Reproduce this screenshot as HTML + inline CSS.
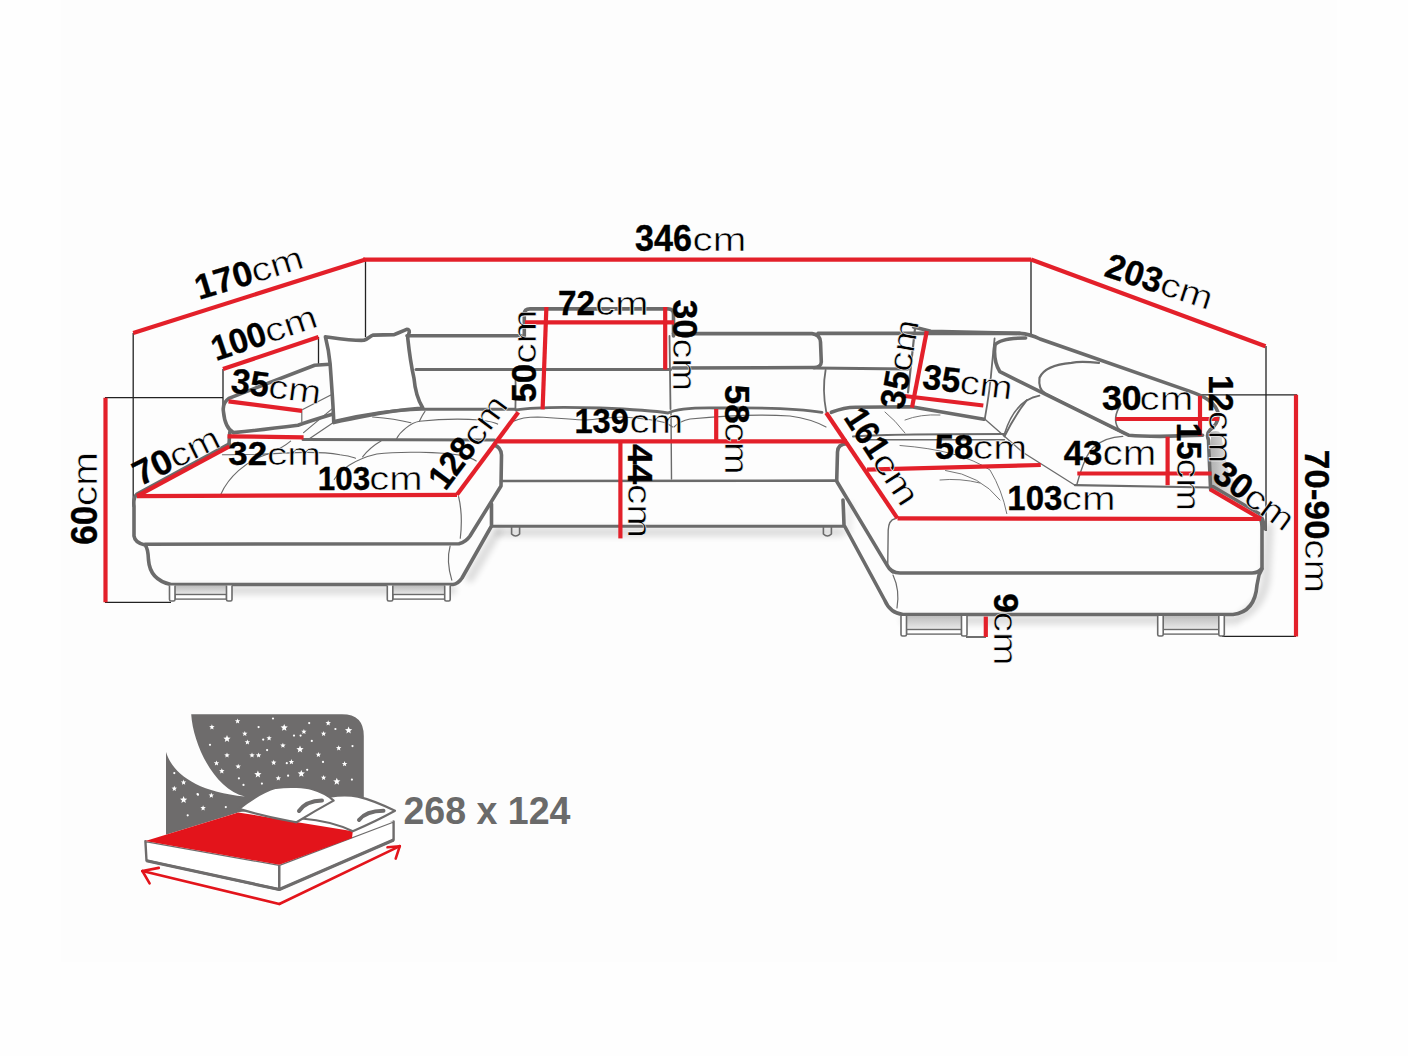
<!DOCTYPE html>
<html><head><meta charset="utf-8"><style>
html,body{margin:0;padding:0;background:#fff;}
svg{display:block;font-family:"Liberation Sans",sans-serif;}
</style></head><body>
<svg width="1408" height="1056" viewBox="0 0 1408 1056">
<rect x="0" y="0" width="1408" height="1056" fill="#fefefe"/>
<rect x="61" y="0" width="1276" height="962" fill="#fdfdfd"/>
<line x1="133.2" y1="333" x2="133.2" y2="507" stroke="#222" stroke-width="1.3" stroke-linecap="butt"/>
<line x1="365.5" y1="259.5" x2="365.5" y2="337" stroke="#222" stroke-width="1.3" stroke-linecap="butt"/>
<line x1="223" y1="369" x2="223" y2="412" stroke="#222" stroke-width="1.3" stroke-linecap="butt"/>
<line x1="318.5" y1="337" x2="318.5" y2="364" stroke="#222" stroke-width="1.3" stroke-linecap="butt"/>
<line x1="105" y1="397.7" x2="223" y2="397.7" stroke="#222" stroke-width="1.3" stroke-linecap="butt"/>
<line x1="105" y1="602.3" x2="171" y2="602.3" stroke="#222" stroke-width="1.3" stroke-linecap="butt"/>
<line x1="1031" y1="259.5" x2="1031" y2="334" stroke="#222" stroke-width="1.3" stroke-linecap="butt"/>
<line x1="1266" y1="346" x2="1266" y2="531" stroke="#222" stroke-width="1.3" stroke-linecap="butt"/>
<line x1="1201" y1="394.8" x2="1297" y2="394.8" stroke="#222" stroke-width="1.3" stroke-linecap="butt"/>
<line x1="1222" y1="636.4" x2="1296" y2="636.4" stroke="#222" stroke-width="1.3" stroke-linecap="butt"/>
<line x1="966" y1="637" x2="986" y2="637" stroke="#222" stroke-width="1.3" stroke-linecap="butt"/>
<defs><filter id="blur" filterUnits="userSpaceOnUse" x="0" y="0" width="1408" height="1056"><feGaussianBlur stdDeviation="5"/></filter><filter id="blur2" filterUnits="userSpaceOnUse" x="0" y="0" width="1408" height="1056"><feGaussianBlur stdDeviation="3"/></filter></defs>
<path d="M175 590 L452 590" fill="none" stroke="#000" stroke-width="9" opacity="0.13" filter="url(#blur2)" stroke-linecap="round"/>
<path d="M470 578 L497 532" fill="none" stroke="#000" stroke-width="9" opacity="0.13" filter="url(#blur2)" stroke-linecap="round"/>
<path d="M500 532 L840 532" fill="none" stroke="#000" stroke-width="9" opacity="0.13" filter="url(#blur2)" stroke-linecap="round"/>
<path d="M848 532 L850 505" fill="none" stroke="#000" stroke-width="6" opacity="0.08" filter="url(#blur2)" stroke-linecap="round"/>
<path d="M905 620 L1236 620" fill="none" stroke="#000" stroke-width="9" opacity="0.13" filter="url(#blur2)" stroke-linecap="round"/>
<path d="M1242 616 Q1262 605 1266 580 L1269 527" fill="none" stroke="#000" stroke-width="9" opacity="0.13" filter="url(#blur2)" stroke-linecap="round"/>
<path d="M1214 445 L1216 490" fill="none" stroke="#000" stroke-width="7" opacity="0.1" filter="url(#blur2)" stroke-linecap="round"/>
<path d="M229 444 L137 494 Q133 498 134 506 L134 536 Q135 543 145 545 Q148 548 148.5 560 Q150 580 171 584.5 L453 584.5 Q458 584 462 578 L491.5 526 L491.5 504" stroke="#6b6b6b" stroke-width="3.6" fill="none" stroke-linejoin="round" stroke-linecap="round" />
<path d="M145 544.2 L459 543.8 Q466 542 470 536 L501 486 L501.5 455 Q501 447 494 445" stroke="#6b6b6b" stroke-width="3.6" fill="none" stroke-linejoin="round" stroke-linecap="round" />
<path d="M458.6 496.7 Q463 515 460.3 538.2" stroke="#6b6b6b" stroke-width="1.2" fill="none" stroke-linejoin="round" stroke-linecap="round" />
<path d="M450.1 546.1 Q446 561 451.8 580.2" stroke="#6b6b6b" stroke-width="1.2" fill="none" stroke-linejoin="round" stroke-linecap="round" />
<path d="M303 439.5 L494 440 L498 441" stroke="#6b6b6b" stroke-width="3.0" fill="none" stroke-linejoin="round" stroke-linecap="round" />
<path d="M221 494 C228 478 245 461 268 454 C278 450 285 446 290.6 441.2" stroke="#6a6a6a" stroke-width="1.1" fill="none" stroke-linejoin="round" stroke-linecap="round" />
<path d="M222.4 454.7 C245 455 270 454 296 452.6 C315 452 330 453 340 454.7 C350 456 352 457 355.5 458.2" stroke="#6a6a6a" stroke-width="1.1" fill="none" stroke-linejoin="round" stroke-linecap="round" />
<path d="M334.2 479.5 C340 470 355 459 376.8 454 C400 451 440 452 462 455.4 C468 457 473 459 476.25 461" stroke="#6a6a6a" stroke-width="1.1" fill="none" stroke-linejoin="round" stroke-linecap="round" />
<path d="M362.6 456.8 C368 450 374 445 381 441" stroke="#6a6a6a" stroke-width="1.1" fill="none" stroke-linejoin="round" stroke-linecap="round" />
<path d="M372.6 417 C385 418 400 420 410.9 422.7" stroke="#6a6a6a" stroke-width="1.1" fill="none" stroke-linejoin="round" stroke-linecap="round" />
<path d="M396.7 438.4 C400 432 410 423 419.4 421.3 C421 418 423 414 425 411.4" stroke="#6a6a6a" stroke-width="1.1" fill="none" stroke-linejoin="round" stroke-linecap="round" />
<path d="M419.4 421.3 C440 419 462 418.5 480 420 C488 421 494 422 497.6 424.1" stroke="#6a6a6a" stroke-width="1.1" fill="none" stroke-linejoin="round" stroke-linecap="round" />
<path d="M513.5 421.3 C520 418 530 417 537.6 417 C560 418 575 420 586 420 C600 419 612 417 622.8 417 C640 418 655 420 665.5 422.7 Q670 425 672.6 427" stroke="#6a6a6a" stroke-width="1.1" fill="none" stroke-linejoin="round" stroke-linecap="round" />
<path d="M674 427 Q680 421 690 419 C720 416 760 414 790 416 C805 418 815 421 826 427" stroke="#6a6a6a" stroke-width="1.1" fill="none" stroke-linejoin="round" stroke-linecap="round" />
<path d="M329.5 364.2 L314.7 365.2 L228.8 398.4 Q222 403 223.5 412 Q225 428 233.5 432.6 Q260 430 298 425.2 Q310 421 333 414" stroke="#6b6b6b" stroke-width="3.6" fill="none" stroke-linejoin="round" stroke-linecap="round" />
<path d="M229.8 432 L228.8 447" stroke="#6b6b6b" stroke-width="3.6" fill="none" stroke-linejoin="round" stroke-linecap="round" />
<path d="M301.8 410.4 L301.8 421.5" stroke="#6b6b6b" stroke-width="1.2" fill="none" stroke-linejoin="round" stroke-linecap="round" />
<path d="M302.7 409.5 L331.3 394.7" stroke="#6b6b6b" stroke-width="1.2" fill="none" stroke-linejoin="round" stroke-linecap="round" />
<path d="M303.6 432.6 L332.3 408.6" stroke="#6b6b6b" stroke-width="1.2" fill="none" stroke-linejoin="round" stroke-linecap="round" />
<path d="M309 439 L332.3 423.3" stroke="#6b6b6b" stroke-width="1.2" fill="none" stroke-linejoin="round" stroke-linecap="round" />
<path d="M325.4 336.7 C335 338 355 341 364 340.3 C368 339 370 336 373.3 335.1 L394.2 334.6 C398 333 403 331 406.7 329.4 Q409.5 329.5 409.3 332 L407.7 337.7 C409 350 411 365 414 378.3 C415 390 418 400 422.8 408 C405 409.5 380 413 367 415.8 C355 418 345 420 333.75 422.6 C333.5 410 332 390 330.1 363.75 C329 352 327 343 325.4 336.7 Z" stroke="#6b6b6b" stroke-width="3.6" fill="#fff" stroke-linejoin="round" stroke-linecap="round" />
<path d="M407 335.7 L521.4 335.7" stroke="#6b6b6b" stroke-width="3.6" fill="none" stroke-linejoin="round" stroke-linecap="round" />
<path d="M416 369.5 L670.5 369.5" stroke="#6b6b6b" stroke-width="3.0" fill="none" stroke-linejoin="round" stroke-linecap="round" />
<path d="M524.3 338 L524.3 314 Q524.3 308.9 530 308.9 L668 308.9 Q673.5 308.9 673.5 314 L673.5 336" stroke="#6b6b6b" stroke-width="3.6" fill="none" stroke-linejoin="round" stroke-linecap="round" />
<path d="M515.4 372 Q516 390 515.4 409.3" stroke="#6b6b6b" stroke-width="1.8" fill="none" stroke-linejoin="round" stroke-linecap="round" />
<path d="M669.5 336 L670.5 409" stroke="#6b6b6b" stroke-width="1.8" fill="none" stroke-linejoin="round" stroke-linecap="round" />
<path d="M334.4 421.3 Q380 410 421.4 409.2 L515 409.3" stroke="#6b6b6b" stroke-width="3.0" fill="none" stroke-linejoin="round" stroke-linecap="round" />
<path d="M516 410 Q540 406 600 408 Q650 410 668 413 Q680 407 720 408 Q790 407 822 412.3" stroke="#6b6b6b" stroke-width="2.8" fill="none" stroke-linejoin="round" stroke-linecap="round" />
<path d="M671 413 L671.5 479" stroke="#6b6b6b" stroke-width="1.4" fill="none" stroke-linejoin="round" stroke-linecap="round" />
<path d="M673.5 333.6 L812 333.6 Q820 334.5 820.5 342 L821.3 362 Q821 367.5 814 367.5 L673 368" stroke="#6b6b6b" stroke-width="3.6" fill="none" stroke-linejoin="round" stroke-linecap="round" />
<path d="M818 333.4 L1019.7 333.4" stroke="#6b6b6b" stroke-width="3.6" fill="none" stroke-linejoin="round" stroke-linecap="round" />
<path d="M814 368 L908 369" stroke="#6b6b6b" stroke-width="3.0" fill="none" stroke-linejoin="round" stroke-linecap="round" />
<path d="M825.6 370 Q822 390 826.3 412.3" stroke="#6b6b6b" stroke-width="1.8" fill="none" stroke-linejoin="round" stroke-linecap="round" />
<path d="M501 481 L837 480.6" stroke="#6b6b6b" stroke-width="2.6" fill="none" stroke-linejoin="round" stroke-linecap="round" />
<path d="M491.5 526.3 L843 526.3" stroke="#6b6b6b" stroke-width="3.0" fill="none" stroke-linejoin="round" stroke-linecap="round" />
<path d="M511.6 527 L511.6 534 Q515.6 538 519.6 534 L519.6 527" stroke="#6b6b6b" stroke-width="1.6" fill="none" stroke-linejoin="round" stroke-linecap="round" />
<path d="M823.4 527 L823.4 534 Q827.4 538 831.4 534 L831.4 527" stroke="#6b6b6b" stroke-width="1.6" fill="none" stroke-linejoin="round" stroke-linecap="round" />
<defs><linearGradient id="armg" x1="0" y1="0" x2="1" y2="0"><stop offset="0" stop-color="#9a9a9a"/><stop offset="1" stop-color="#ffffff" stop-opacity="0"/></linearGradient></defs>
<path d="M1211 432 Q1222 428 1222 440 L1228 470 Q1240 495 1266 520 L1211 489 Z" fill="url(#armg)" opacity="0.7"/>
<path d="M1213 486.5 L1259 513.5 Q1264 518 1264.5 529" stroke="#6b6b6b" stroke-width="3.2" fill="none" stroke-linejoin="round" stroke-linecap="round" />
<path d="M847 443.7 Q837.7 443.8 837.5 452 L836.7 481.3 L886.7 564.6 Q891 573 900 573 L1252 573 Q1259 573 1262 568 L1262 527 Q1262 520 1259 518" stroke="#6b6b6b" stroke-width="3.6" fill="none" stroke-linejoin="round" stroke-linecap="round" />
<path d="M843 500 Q843.5 510 844 525 L884.6 600 Q890 613 903 614.5 L1233 614.5 Q1255 612 1257 585 L1259 575 L1262 569" stroke="#6b6b6b" stroke-width="3.6" fill="none" stroke-linejoin="round" stroke-linecap="round" />
<path d="M895 518.75 Q888.75 520 888.2 530 L887.7 566 Q890 572 893 573" stroke="#6b6b6b" stroke-width="1.4" fill="none" stroke-linejoin="round" stroke-linecap="round" />
<path d="M893 575 Q900 590 897 608" stroke="#6b6b6b" stroke-width="1.2" fill="none" stroke-linejoin="round" stroke-linecap="round" />
<path d="M853 436.5 Q880 434 1004.5 434" stroke="#6b6b6b" stroke-width="2.0" fill="none" stroke-linejoin="round" stroke-linecap="round" />
<path d="M866 439.8 L1004.5 439.8" stroke="#6b6b6b" stroke-width="1.4" fill="none" stroke-linejoin="round" stroke-linecap="round" />
<path d="M831.3 412.3 Q845 407 856.8 407.3 L911.4 406.8 L984 419.3" stroke="#6b6b6b" stroke-width="3.6" fill="none" stroke-linejoin="round" stroke-linecap="round" />
<path d="M985 419.3 L1022.7 452.3 L1075 485.2" stroke="#6b6b6b" stroke-width="1.3" fill="none" stroke-linejoin="round" stroke-linecap="round" />
<path d="M1075 485.2 L1210 487.5" stroke="#6b6b6b" stroke-width="2.2" fill="none" stroke-linejoin="round" stroke-linecap="round" />
<path d="M1004.5 436.4 Q1015 415 1027 400" stroke="#6b6b6b" stroke-width="2.0" fill="none" stroke-linejoin="round" stroke-linecap="round" />
<path d="M900 445.5 Q960 450 990 470 Q1002 490 1006.8 513.6" stroke="#777" stroke-width="1.0" fill="none" stroke-linejoin="round" stroke-linecap="round" />
<path d="M945.5 470.5 Q980 475 1000 500" stroke="#777" stroke-width="1.0" fill="none" stroke-linejoin="round" stroke-linecap="round" />
<path d="M885 412 Q895 420 905 433" stroke="#777" stroke-width="1.0" fill="none" stroke-linejoin="round" stroke-linecap="round" />
<path d="M905 420 Q920 414 940 415" stroke="#777" stroke-width="1.0" fill="none" stroke-linejoin="round" stroke-linecap="round" />
<path d="M940 480 Q960 478 980 483" stroke="#777" stroke-width="1.0" fill="none" stroke-linejoin="round" stroke-linecap="round" />
<path d="M913.6 327 L930.7 331.3 L1019.7 333.4 Q1030 334 1040 339 L1190 391.4 Q1203 396 1208.5 400 Q1218 407 1218.4 415.5 Q1218 424 1210 430 Q1206 434 1208.5 440 L1210.6 489.4" stroke="#6b6b6b" stroke-width="3.6" fill="none" stroke-linejoin="round" stroke-linecap="round" />
<path d="M908 392.4 L915 328.5 L913.6 327" stroke="#6b6b6b" stroke-width="2.2" fill="none" stroke-linejoin="round" stroke-linecap="round" />
<path d="M984.7 419.4 Q990 390 991.8 366.8 L994.6 338.4" stroke="#6b6b6b" stroke-width="1.8" fill="none" stroke-linejoin="round" stroke-linecap="round" />
<path d="M1025.6 338 Q1000 338 995 345 Q993 360 999.8 371.7 L1129 435.3 Q1140 436.4 1160 436.4 L1202.6 435.3" stroke="#6b6b6b" stroke-width="3.6" fill="none" stroke-linejoin="round" stroke-linecap="round" />
<path d="M1099 362.8 Q1080 361 1071.4 362.8 Q1045 365 1039.5 377.7 Q1038 390 1045.5 393.6 L1125 434" stroke="#6b6b6b" stroke-width="2.2" fill="none" stroke-linejoin="round" stroke-linecap="round" />
<path d="M1121 404 Q1112 418 1118 428 Q1123 434 1133 436" stroke="#6b6b6b" stroke-width="1.6" fill="none" stroke-linejoin="round" stroke-linecap="round" />
<path d="M1077 484 Q1085 455 1093 447.7 Q1105 437 1122.7 436.4" stroke="#6b6b6b" stroke-width="1.4" fill="none" stroke-linejoin="round" stroke-linecap="round" />
<path d="M1004.7 433.3 Q1015 400 1039.5 395.6" stroke="#6b6b6b" stroke-width="1.6" fill="none" stroke-linejoin="round" stroke-linecap="round" />
<defs><linearGradient id="legg" x1="0" y1="0" x2="0" y2="1"><stop offset="0" stop-color="#bdbdbd"/><stop offset="1" stop-color="#efefef"/></linearGradient></defs>
<rect x="175.0" y="585.5" width="51.5" height="10.5" fill="url(#legg)"/>
<rect x="175.0" y="594.5" width="51.5" height="4.6" fill="#fff" stroke="#6b6b6b" stroke-width="1.4"/>
<path d="M169.5 585.5 L169.5 599.5 Q169.5 601 171.0 601 L173.5 601 Q175.0 601 175.0 599.5 L175.0 585.5" fill="#fff" stroke="#6b6b6b" stroke-width="1.6"/>
<path d="M226.5 585.5 L226.5 599.5 Q226.5 601 228.0 601 L230.5 601 Q232.0 601 232.0 599.5 L232.0 585.5" fill="#fff" stroke="#6b6b6b" stroke-width="1.6"/>
<rect x="392.8" y="585.5" width="51.89999999999998" height="10.5" fill="url(#legg)"/>
<rect x="392.8" y="594.5" width="51.89999999999998" height="4.6" fill="#fff" stroke="#6b6b6b" stroke-width="1.4"/>
<path d="M387.3 585.5 L387.3 599.5 Q387.3 601 388.8 601 L391.3 601 Q392.8 601 392.8 599.5 L392.8 585.5" fill="#fff" stroke="#6b6b6b" stroke-width="1.6"/>
<path d="M444.7 585.5 L444.7 599.5 Q444.7 601 446.2 601 L448.7 601 Q450.2 601 450.2 599.5 L450.2 585.5" fill="#fff" stroke="#6b6b6b" stroke-width="1.6"/>
<rect x="906.5" y="616" width="55.0" height="15" fill="url(#legg)"/>
<rect x="906.5" y="629.5" width="55.0" height="4.6" fill="#fff" stroke="#6b6b6b" stroke-width="1.4"/>
<path d="M901 616 L901 634.5 Q901 636 902.5 636 L905.0 636 Q906.5 636 906.5 634.5 L906.5 616" fill="#fff" stroke="#6b6b6b" stroke-width="1.6"/>
<path d="M961.5 616 L961.5 634.5 Q961.5 636 963.0 636 L965.5 636 Q967.0 636 967.0 634.5 L967.0 616" fill="#fff" stroke="#6b6b6b" stroke-width="1.6"/>
<rect x="1163.2" y="616" width="55.59999999999991" height="15" fill="url(#legg)"/>
<rect x="1163.2" y="629.5" width="55.59999999999991" height="4.6" fill="#fff" stroke="#6b6b6b" stroke-width="1.4"/>
<path d="M1157.7 616 L1157.7 634.5 Q1157.7 636 1159.2 636 L1161.7 636 Q1163.2 636 1163.2 634.5 L1163.2 616" fill="#fff" stroke="#6b6b6b" stroke-width="1.6"/>
<path d="M1218.8 616 L1218.8 634.5 Q1218.8 636 1220.3 636 L1222.8 636 Q1224.3 636 1224.3 634.5 L1224.3 616" fill="#fff" stroke="#6b6b6b" stroke-width="1.6"/>
<line x1="133.2" y1="333" x2="365.5" y2="259.5" stroke="#e3202a" stroke-width="4.2" stroke-linecap="butt"/>
<line x1="363" y1="259.6" x2="1031" y2="259.6" stroke="#e3202a" stroke-width="4.2" stroke-linecap="butt"/>
<line x1="1031" y1="259.5" x2="1265.5" y2="346.3" stroke="#e3202a" stroke-width="4.2" stroke-linecap="butt"/>
<line x1="223" y1="369" x2="318.5" y2="337" stroke="#e3202a" stroke-width="4.2" stroke-linecap="butt"/>
<line x1="228.5" y1="401.3" x2="302" y2="410.8" stroke="#e3202a" stroke-width="4.2" stroke-linecap="butt"/>
<line x1="227.5" y1="436.3" x2="303.6" y2="437.4" stroke="#e3202a" stroke-width="4.2" stroke-linecap="butt"/>
<line x1="137" y1="496.2" x2="229.3" y2="446.5" stroke="#e3202a" stroke-width="4.2" stroke-linecap="butt"/>
<line x1="137" y1="496.2" x2="457" y2="494.8" stroke="#e3202a" stroke-width="4.2" stroke-linecap="butt"/>
<line x1="456.9" y1="494.8" x2="518.3" y2="412.2" stroke="#e3202a" stroke-width="4.2" stroke-linecap="butt"/>
<line x1="105.5" y1="397.7" x2="105.5" y2="602.3" stroke="#e3202a" stroke-width="4.2" stroke-linecap="butt"/>
<line x1="525" y1="322.4" x2="674" y2="322.4" stroke="#e3202a" stroke-width="4.2" stroke-linecap="butt"/>
<line x1="546.4" y1="307" x2="542.6" y2="409.4" stroke="#e3202a" stroke-width="4.2" stroke-linecap="butt"/>
<line x1="665.2" y1="307" x2="665.2" y2="369.5" stroke="#e3202a" stroke-width="4.2" stroke-linecap="butt"/>
<line x1="498" y1="441.4" x2="847" y2="441.4" stroke="#e3202a" stroke-width="4.2" stroke-linecap="butt"/>
<line x1="620.4" y1="441.4" x2="620.4" y2="538.4" stroke="#e3202a" stroke-width="4.2" stroke-linecap="butt"/>
<line x1="716.2" y1="409" x2="716.2" y2="441.4" stroke="#e3202a" stroke-width="4.2" stroke-linecap="butt"/>
<line x1="826.2" y1="412.8" x2="897.5" y2="518.4" stroke="#e3202a" stroke-width="4.2" stroke-linecap="butt"/>
<line x1="926.8" y1="331" x2="912" y2="407.6" stroke="#e3202a" stroke-width="4.2" stroke-linecap="butt"/>
<line x1="904.4" y1="396" x2="983.3" y2="405.5" stroke="#e3202a" stroke-width="4.2" stroke-linecap="butt"/>
<line x1="867" y1="469.6" x2="1040.8" y2="465" stroke="#e3202a" stroke-width="4.2" stroke-linecap="butt"/>
<line x1="897.5" y1="518.4" x2="1261" y2="519" stroke="#e3202a" stroke-width="4.2" stroke-linecap="butt"/>
<line x1="1115.6" y1="419" x2="1219" y2="419" stroke="#e3202a" stroke-width="4.2" stroke-linecap="butt"/>
<line x1="1200" y1="395.8" x2="1200" y2="436" stroke="#e3202a" stroke-width="4.2" stroke-linecap="butt"/>
<line x1="1167.6" y1="436.7" x2="1167.6" y2="485.2" stroke="#e3202a" stroke-width="4.2" stroke-linecap="butt"/>
<line x1="1077.3" y1="473.5" x2="1211.5" y2="473.5" stroke="#e3202a" stroke-width="4.2" stroke-linecap="butt"/>
<line x1="1210" y1="489.3" x2="1261" y2="519" stroke="#e3202a" stroke-width="4.2" stroke-linecap="butt"/>
<line x1="1296" y1="394.8" x2="1296" y2="636.6" stroke="#e3202a" stroke-width="4.2" stroke-linecap="butt"/>
<line x1="985.8" y1="616.6" x2="985.8" y2="637" stroke="#e3202a" stroke-width="4.2" stroke-linecap="butt"/>
<g transform="translate(636,251) rotate(0)"><text x="-1.09" y="0" font-size="36.43" font-weight="bold" textLength="57.01" lengthAdjust="spacingAndGlyphs" fill="#000" stroke="#000" stroke-width="0.35">346</text><text x="56.54" y="0" font-size="33.89" textLength="53.73" lengthAdjust="spacingAndGlyphs" fill="#000" stroke="#fff" stroke-width="0.55">cm</text></g>
<g transform="translate(559,314.6) rotate(0)"><text x="-1.04" y="0" font-size="34.71" font-weight="bold" textLength="37.08" lengthAdjust="spacingAndGlyphs" fill="#000" stroke="#000" stroke-width="0.35">72</text><text x="36.34" y="0" font-size="34.07" textLength="53.15" lengthAdjust="spacingAndGlyphs" fill="#000" stroke="#fff" stroke-width="0.55">cm</text></g>
<g transform="translate(575.5,432.6) rotate(0)"><text x="-1.05" y="0" font-size="35.00" font-weight="bold" textLength="54.40" lengthAdjust="spacingAndGlyphs" fill="#000" stroke="#000" stroke-width="0.35">139</text><text x="54.14" y="0" font-size="33.89" textLength="53.63" lengthAdjust="spacingAndGlyphs" fill="#000" stroke="#fff" stroke-width="0.55">cm</text></g>
<g transform="translate(318.8,490.3) rotate(0)"><text x="-1.00" y="0" font-size="33.43" font-weight="bold" textLength="52.37" lengthAdjust="spacingAndGlyphs" fill="#000" stroke="#000" stroke-width="0.35">103</text><text x="50.49" y="0" font-size="32.78" textLength="53.40" lengthAdjust="spacingAndGlyphs" fill="#000" stroke="#fff" stroke-width="0.55">cm</text></g>
<g transform="translate(229.3,465.4) rotate(0)"><text x="-1.01" y="0" font-size="33.57" font-weight="bold" textLength="38.89" lengthAdjust="spacingAndGlyphs" fill="#000" stroke="#000" stroke-width="0.35">32</text><text x="37.73" y="0" font-size="31.67" textLength="54.08" lengthAdjust="spacingAndGlyphs" fill="#000" stroke="#fff" stroke-width="0.55">cm</text></g>
<g transform="translate(935.7,458.8) rotate(0)"><text x="-1.05" y="0" font-size="35.00" font-weight="bold" textLength="38.80" lengthAdjust="spacingAndGlyphs" fill="#000" stroke="#000" stroke-width="0.35">58</text><text x="37.10" y="0" font-size="32.41" textLength="54.26" lengthAdjust="spacingAndGlyphs" fill="#000" stroke="#fff" stroke-width="0.55">cm</text></g>
<g transform="translate(1008.4,510) rotate(0)"><text x="-1.05" y="0" font-size="35.00" font-weight="bold" textLength="55.10" lengthAdjust="spacingAndGlyphs" fill="#000" stroke="#000" stroke-width="0.35">103</text><text x="53.37" y="0" font-size="33.33" textLength="53.67" lengthAdjust="spacingAndGlyphs" fill="#000" stroke="#fff" stroke-width="0.55">cm</text></g>
<g transform="translate(1064.8,465) rotate(0)"><text x="-1.05" y="0" font-size="35.00" font-weight="bold" textLength="38.70" lengthAdjust="spacingAndGlyphs" fill="#000" stroke="#000" stroke-width="0.35">43</text><text x="37.81" y="0" font-size="34.81" textLength="53.73" lengthAdjust="spacingAndGlyphs" fill="#000" stroke="#fff" stroke-width="0.55">cm</text></g>
<g transform="translate(1102.9,410.2) rotate(0)"><text x="-1.03" y="0" font-size="34.29" font-weight="bold" textLength="39.74" lengthAdjust="spacingAndGlyphs" fill="#000" stroke="#000" stroke-width="0.35">30</text><text x="36.67" y="0" font-size="33.33" textLength="53.77" lengthAdjust="spacingAndGlyphs" fill="#000" stroke="#fff" stroke-width="0.55">cm</text></g>
<g transform="translate(200,299.7) rotate(-17)"><text x="-1.05" y="0" font-size="35.00" font-weight="bold" textLength="58.80" lengthAdjust="spacingAndGlyphs" fill="#000" stroke="#000" stroke-width="0.35">170</text><text x="57.17" y="0" font-size="33.33" textLength="53.27" lengthAdjust="spacingAndGlyphs" fill="#000" stroke="#fff" stroke-width="0.55">cm</text></g>
<g transform="translate(216.9,361) rotate(-18.7)"><text x="-1.05" y="0" font-size="35.00" font-weight="bold" textLength="55.80" lengthAdjust="spacingAndGlyphs" fill="#000" stroke="#000" stroke-width="0.35">100</text><text x="54.67" y="0" font-size="33.33" textLength="53.77" lengthAdjust="spacingAndGlyphs" fill="#000" stroke="#fff" stroke-width="0.55">cm</text></g>
<g transform="translate(231,392.5) rotate(7.5)"><text x="-1.05" y="0" font-size="35.00" font-weight="bold" textLength="37.80" lengthAdjust="spacingAndGlyphs" fill="#000" stroke="#000" stroke-width="0.35">35</text><text x="36.67" y="0" font-size="33.33" textLength="52.77" lengthAdjust="spacingAndGlyphs" fill="#000" stroke="#fff" stroke-width="0.55">cm</text></g>
<g transform="translate(140.9,486) rotate(-26.2)"><text x="-1.05" y="0" font-size="35.00" font-weight="bold" textLength="39.80" lengthAdjust="spacingAndGlyphs" fill="#000" stroke="#000" stroke-width="0.35">70</text><text x="38.67" y="0" font-size="33.33" textLength="52.27" lengthAdjust="spacingAndGlyphs" fill="#000" stroke="#fff" stroke-width="0.55">cm</text></g>
<g transform="translate(97,543.6) rotate(-90)"><text x="-1.11" y="0" font-size="37.14" font-weight="bold" textLength="38.97" lengthAdjust="spacingAndGlyphs" fill="#000" stroke="#000" stroke-width="0.35">60</text><text x="37.63" y="0" font-size="34.26" textLength="53.87" lengthAdjust="spacingAndGlyphs" fill="#000" stroke="#fff" stroke-width="0.55">cm</text></g>
<g transform="translate(446,491) rotate(-53.4)"><text x="-1.05" y="0" font-size="35.00" font-weight="bold" textLength="53.80" lengthAdjust="spacingAndGlyphs" fill="#000" stroke="#000" stroke-width="0.35">128</text><text x="52.67" y="0" font-size="33.33" textLength="53.77" lengthAdjust="spacingAndGlyphs" fill="#000" stroke="#fff" stroke-width="0.55">cm</text></g>
<g transform="translate(536.4,401.5) rotate(-90)"><text x="-1.05" y="0" font-size="35.00" font-weight="bold" textLength="38.80" lengthAdjust="spacingAndGlyphs" fill="#000" stroke="#000" stroke-width="0.35">50</text><text x="37.67" y="0" font-size="33.33" textLength="54.27" lengthAdjust="spacingAndGlyphs" fill="#000" stroke="#fff" stroke-width="0.55">cm</text></g>
<g transform="translate(673,300.8) rotate(90)"><text x="-1.05" y="0" font-size="35.00" font-weight="bold" textLength="38.80" lengthAdjust="spacingAndGlyphs" fill="#000" stroke="#000" stroke-width="0.35">30</text><text x="37.67" y="0" font-size="33.33" textLength="52.77" lengthAdjust="spacingAndGlyphs" fill="#000" stroke="#fff" stroke-width="0.55">cm</text></g>
<g transform="translate(724.8,385.8) rotate(90)"><text x="-1.05" y="0" font-size="35.00" font-weight="bold" textLength="38.80" lengthAdjust="spacingAndGlyphs" fill="#000" stroke="#000" stroke-width="0.35">58</text><text x="36.67" y="0" font-size="33.33" textLength="52.27" lengthAdjust="spacingAndGlyphs" fill="#000" stroke="#fff" stroke-width="0.55">cm</text></g>
<g transform="translate(627.6,445.3) rotate(90)"><text x="-1.05" y="0" font-size="35.00" font-weight="bold" textLength="39.80" lengthAdjust="spacingAndGlyphs" fill="#000" stroke="#000" stroke-width="0.35">44</text><text x="38.67" y="0" font-size="33.33" textLength="54.17" lengthAdjust="spacingAndGlyphs" fill="#000" stroke="#fff" stroke-width="0.55">cm</text></g>
<g transform="translate(843.5,418.5) rotate(57)"><text x="-1.05" y="0" font-size="35.00" font-weight="bold" textLength="51.80" lengthAdjust="spacingAndGlyphs" fill="#000" stroke="#000" stroke-width="0.35">161</text><text x="50.67" y="0" font-size="33.33" textLength="56.77" lengthAdjust="spacingAndGlyphs" fill="#000" stroke="#fff" stroke-width="0.55">cm</text></g>
<g transform="translate(903.8,409.1) rotate(-80)"><text x="-1.05" y="0" font-size="35.00" font-weight="bold" textLength="37.80" lengthAdjust="spacingAndGlyphs" fill="#000" stroke="#000" stroke-width="0.35">35</text><text x="36.67" y="0" font-size="33.33" textLength="52.27" lengthAdjust="spacingAndGlyphs" fill="#000" stroke="#fff" stroke-width="0.55">cm</text></g>
<g transform="translate(922.5,388.4) rotate(7.1)"><text x="-1.05" y="0" font-size="35.00" font-weight="bold" textLength="37.80" lengthAdjust="spacingAndGlyphs" fill="#000" stroke="#000" stroke-width="0.35">35</text><text x="36.67" y="0" font-size="33.33" textLength="52.77" lengthAdjust="spacingAndGlyphs" fill="#000" stroke="#fff" stroke-width="0.55">cm</text></g>
<g transform="translate(1208.5,376) rotate(90)"><text x="-1.05" y="0" font-size="35.00" font-weight="bold" textLength="36.80" lengthAdjust="spacingAndGlyphs" fill="#000" stroke="#000" stroke-width="0.35">12</text><text x="34.67" y="0" font-size="33.33" textLength="52.77" lengthAdjust="spacingAndGlyphs" fill="#000" stroke="#fff" stroke-width="0.55">cm</text></g>
<g transform="translate(1177.4,423.8) rotate(90)"><text x="-1.05" y="0" font-size="35.00" font-weight="bold" textLength="36.80" lengthAdjust="spacingAndGlyphs" fill="#000" stroke="#000" stroke-width="0.35">15</text><text x="34.67" y="0" font-size="33.33" textLength="52.77" lengthAdjust="spacingAndGlyphs" fill="#000" stroke="#fff" stroke-width="0.55">cm</text></g>
<g transform="translate(1211.5,479) rotate(36.3)"><text x="-1.05" y="0" font-size="35.00" font-weight="bold" textLength="38.80" lengthAdjust="spacingAndGlyphs" fill="#000" stroke="#000" stroke-width="0.35">30</text><text x="37.67" y="0" font-size="33.33" textLength="52.77" lengthAdjust="spacingAndGlyphs" fill="#000" stroke="#fff" stroke-width="0.55">cm</text></g>
<g transform="translate(1104.1,276) rotate(18)"><text x="-1.05" y="0" font-size="35.00" font-weight="bold" textLength="57.80" lengthAdjust="spacingAndGlyphs" fill="#000" stroke="#000" stroke-width="0.35">203</text><text x="56.67" y="0" font-size="33.33" textLength="53.27" lengthAdjust="spacingAndGlyphs" fill="#000" stroke="#fff" stroke-width="0.55">cm</text></g>
<g transform="translate(1304.7,450.7) rotate(90)"><text x="-1.05" y="0" font-size="35.00" font-weight="bold" textLength="89.80" lengthAdjust="spacingAndGlyphs" fill="#000" stroke="#000" stroke-width="0.35">70-90</text><text x="88.67" y="0" font-size="33.33" textLength="53.77" lengthAdjust="spacingAndGlyphs" fill="#000" stroke="#fff" stroke-width="0.55">cm</text></g>
<g transform="translate(993.7,594.2) rotate(90)"><text x="-1.05" y="0" font-size="35.00" font-weight="bold" textLength="19.80" lengthAdjust="spacingAndGlyphs" fill="#000" stroke="#000" stroke-width="0.35">9</text><text x="17.67" y="0" font-size="33.33" textLength="53.77" lengthAdjust="spacingAndGlyphs" fill="#000" stroke="#fff" stroke-width="0.55">cm</text></g>
<path d="M191.2 714.3 L342 714.3 Q363.8 714.3 363.8 736 L363.8 798 L240 812 L166 836 L166 752.1 C172 772 195 792 244.9 796.5 C215 790 193 745 191.2 714.3 Z" fill="#6e6c6c"/>
<polygon points="237.6,718.4 238.3,720.2 240.3,720.3 238.8,721.6 239.2,723.5 237.6,722.5 236.0,723.5 236.4,721.6 234.9,720.3 236.9,720.2" fill="#fff"/>
<polygon points="211.9,724.3 212.6,726.1 214.6,726.2 213.1,727.5 213.5,729.4 211.9,728.4 210.3,729.4 210.7,727.5 209.2,726.2 211.2,726.1" fill="#fff"/>
<circle cx="273" cy="718.5" r="1.1" fill="#fff"/>
<circle cx="258.6" cy="727.1" r="1.1" fill="#fff"/>
<polygon points="284.2,723.9 285.2,726.3 287.8,726.5 285.8,728.2 286.4,730.8 284.2,729.4 282.0,730.8 282.6,728.2 280.6,726.5 283.2,726.3" fill="#fff"/>
<circle cx="309.2" cy="723.1" r="1.1" fill="#fff"/>
<polygon points="328.2,720.3 328.9,722.1 330.9,722.2 329.4,723.5 329.8,725.4 328.2,724.4 326.6,725.4 327.0,723.5 325.5,722.2 327.5,722.1" fill="#fff"/>
<polygon points="348.6,726.6 349.6,729.0 352.2,729.2 350.2,730.9 350.8,733.5 348.6,732.1 346.4,733.5 347.0,730.9 345.0,729.2 347.6,729.0" fill="#fff"/>
<circle cx="335.4" cy="729" r="1.1" fill="#fff"/>
<polygon points="244.8,730.9 245.5,732.7 247.5,732.8 246.0,734.1 246.4,736.0 244.8,735.0 243.2,736.0 243.6,734.1 242.1,732.8 244.1,732.7" fill="#fff"/>
<polygon points="227.0,735.1 228.0,737.5 230.6,737.7 228.6,739.4 229.2,742.0 227.0,740.6 224.8,742.0 225.4,739.4 223.4,737.7 226.0,737.5" fill="#fff"/>
<circle cx="210" cy="744.8" r="1.1" fill="#fff"/>
<polygon points="247.4,739.4 248.1,741.2 250.1,741.3 248.6,742.6 249.0,744.5 247.4,743.5 245.8,744.5 246.2,742.6 244.7,741.3 246.7,741.2" fill="#fff"/>
<circle cx="263.2" cy="739.6" r="1.1" fill="#fff"/>
<polygon points="269.1,735.4 269.8,737.2 271.8,737.3 270.3,738.6 270.7,740.5 269.1,739.5 267.5,740.5 267.9,738.6 266.4,737.3 268.4,737.2" fill="#fff"/>
<polygon points="303.9,728.9 304.6,730.7 306.6,730.8 305.1,732.1 305.5,734.0 303.9,733.0 302.3,734.0 302.7,732.1 301.2,730.8 303.2,730.7" fill="#fff"/>
<circle cx="294" cy="735.6" r="1.1" fill="#fff"/>
<circle cx="300.6" cy="735.6" r="1.1" fill="#fff"/>
<polygon points="323.6,730.9 324.3,732.7 326.3,732.8 324.8,734.1 325.2,736.0 323.6,735.0 322.0,736.0 322.4,734.1 320.9,732.8 322.9,732.7" fill="#fff"/>
<circle cx="311.8" cy="740.9" r="1.1" fill="#fff"/>
<polygon points="282.9,742.7 283.6,744.5 285.6,744.6 284.1,745.9 284.5,747.8 282.9,746.8 281.3,747.8 281.7,745.9 280.2,744.6 282.2,744.5" fill="#fff"/>
<polygon points="300.0,745.6 301.0,748.0 303.6,748.2 301.6,749.9 302.2,752.5 300.0,751.1 297.8,752.5 298.4,749.9 296.4,748.2 299.0,748.0" fill="#fff"/>
<polygon points="338.7,745.3 339.4,747.1 341.4,747.2 339.9,748.5 340.3,750.4 338.7,749.4 337.1,750.4 337.5,748.5 336.0,747.2 338.0,747.1" fill="#fff"/>
<circle cx="352.5" cy="746.1" r="1.1" fill="#fff"/>
<circle cx="267.1" cy="750.1" r="1.1" fill="#fff"/>
<polygon points="227.0,752.5 227.7,754.3 229.7,754.4 228.2,755.7 228.6,757.6 227.0,756.6 225.4,757.6 225.8,755.7 224.3,754.4 226.3,754.3" fill="#fff"/>
<polygon points="252.0,752.5 252.7,754.3 254.7,754.4 253.2,755.7 253.6,757.6 252.0,756.6 250.4,757.6 250.8,755.7 249.3,754.4 251.3,754.3" fill="#fff"/>
<polygon points="258.6,752.5 259.3,754.3 261.3,754.4 259.8,755.7 260.2,757.6 258.6,756.6 257.0,757.6 257.4,755.7 255.9,754.4 257.9,754.3" fill="#fff"/>
<polygon points="318.4,751.9 319.1,753.7 321.1,753.8 319.6,755.1 320.0,757.0 318.4,756.0 316.8,757.0 317.2,755.1 315.7,753.8 317.7,753.7" fill="#fff"/>
<polygon points="216.5,760.4 217.2,762.2 219.2,762.3 217.7,763.6 218.1,765.5 216.5,764.5 214.9,765.5 215.3,763.6 213.8,762.3 215.8,762.2" fill="#fff"/>
<polygon points="238.2,763.7 238.9,765.5 240.9,765.6 239.4,766.9 239.8,768.8 238.2,767.8 236.6,768.8 237.0,766.9 235.5,765.6 237.5,765.5" fill="#fff"/>
<polygon points="273.7,759.8 274.4,761.6 276.4,761.7 274.9,763.0 275.3,764.9 273.7,763.9 272.1,764.9 272.5,763.0 271.0,761.7 273.0,761.6" fill="#fff"/>
<polygon points="291.4,759.1 292.1,760.9 294.1,761.0 292.6,762.3 293.0,764.2 291.4,763.2 289.8,764.2 290.2,762.3 288.7,761.0 290.7,760.9" fill="#fff"/>
<circle cx="286.8" cy="763.2" r="1.1" fill="#fff"/>
<circle cx="323" cy="761.9" r="1.1" fill="#fff"/>
<polygon points="344.6,761.1 345.3,762.9 347.3,763.0 345.8,764.3 346.2,766.2 344.6,765.2 343.0,766.2 343.4,764.3 341.9,763.0 343.9,762.9" fill="#fff"/>
<polygon points="221.8,768.3 222.5,770.1 224.5,770.2 223.0,771.5 223.4,773.4 221.8,772.4 220.2,773.4 220.6,771.5 219.1,770.2 221.1,770.1" fill="#fff"/>
<polygon points="257.9,770.6 258.9,773.0 261.5,773.2 259.5,774.9 260.1,777.5 257.9,776.1 255.7,777.5 256.3,774.9 254.3,773.2 256.9,773.0" fill="#fff"/>
<polygon points="301.3,769.9 302.3,772.3 304.9,772.5 302.9,774.2 303.5,776.8 301.3,775.4 299.1,776.8 299.7,774.2 297.7,772.5 300.3,772.3" fill="#fff"/>
<circle cx="307.2" cy="769.8" r="1.1" fill="#fff"/>
<polygon points="278.3,775.5 279.0,777.3 281.0,777.4 279.5,778.7 279.9,780.6 278.3,779.6 276.7,780.6 277.1,778.7 275.6,777.4 277.6,777.3" fill="#fff"/>
<circle cx="288.1" cy="775.7" r="1.1" fill="#fff"/>
<circle cx="238.9" cy="778.3" r="1.1" fill="#fff"/>
<polygon points="323.6,774.9 324.3,776.7 326.3,776.8 324.8,778.1 325.2,780.0 323.6,779.0 322.0,780.0 322.4,778.1 320.9,776.8 322.9,776.7" fill="#fff"/>
<polygon points="336.8,777.8 337.8,780.2 340.4,780.4 338.4,782.1 339.0,784.7 336.8,783.3 334.6,784.7 335.2,782.1 333.2,780.4 335.8,780.2" fill="#fff"/>
<circle cx="351.9" cy="779.6" r="1.1" fill="#fff"/>
<circle cx="261.9" cy="783.6" r="1.1" fill="#fff"/>
<circle cx="243.5" cy="784.9" r="1.1" fill="#fff"/>
<circle cx="197.5" cy="794.1" r="1.1" fill="#fff"/>
<polygon points="211.3,792.6 212.0,794.4 214.0,794.5 212.5,795.8 212.9,797.7 211.3,796.7 209.7,797.7 210.1,795.8 208.6,794.5 210.6,794.4" fill="#fff"/>
<circle cx="174.3" cy="773.1" r="1.1" fill="#fff"/>
<polygon points="183.6,779.6 184.3,781.4 186.3,781.5 184.8,782.8 185.2,784.7 183.6,783.7 182.0,784.7 182.4,782.8 180.9,781.5 182.9,781.4" fill="#fff"/>
<polygon points="174.3,785.8 175.0,787.6 177.0,787.7 175.5,789.0 175.9,790.9 174.3,789.9 172.7,790.9 173.1,789.0 171.6,787.7 173.6,787.6" fill="#fff"/>
<polygon points="183.6,796.1 184.6,798.5 187.2,798.7 185.2,800.4 185.8,803.0 183.6,801.6 181.4,803.0 182.0,800.4 180.0,798.7 182.6,798.5" fill="#fff"/>
<circle cx="198" cy="794.7" r="1.1" fill="#fff"/>
<polygon points="203.1,805.3 203.8,807.1 205.8,807.2 204.3,808.5 204.7,810.4 203.1,809.4 201.5,810.4 201.9,808.5 200.4,807.2 202.4,807.1" fill="#fff"/>
<circle cx="187.7" cy="815.3" r="1.1" fill="#fff"/>
<circle cx="225.8" cy="807.1" r="1.1" fill="#fff"/>
<path d="M145.4 841.1 L279.3 864.8 L279.3 889.5 L146.5 860.7 Z" fill="#fff" stroke="#6e6c6c" stroke-width="2.4" stroke-linejoin="round"/>
<path d="M279.3 864.8 L393.6 821.5 L393.6 840 L279.3 889.5 Z" fill="#fff" stroke="#6e6c6c" stroke-width="2.4" stroke-linejoin="round"/>
<path d="M146.5 860.7 L279.3 889.5 L393.6 840" fill="none" stroke="#6e6c6c" stroke-width="3.2" stroke-linejoin="round"/>
<path d="M238.2 812.4 L393.6 821.5 L279.3 864.8 L145.4 841.1 Z" fill="#fff"/>
<path d="M145.4 841.1 L238.2 812.4 L296 822 L352.8 831.3 L352 838 L279.3 864.8 Z" fill="#e3141b"/>
<path d="M301.6 818.5 C310 808 320 800 329.7 796.7 C340 795 350 795 357.9 796.7 C372 800 385 806 395 810.8 C382 818 365 826 352.8 831.3 C340 825 320 820 301.6 818.5 Z" fill="#fff" stroke="#6e6c6c" stroke-width="2.2" stroke-linejoin="round"/>
<path d="M239 808.9 C250 800 262 792 276 787.8 C290 786 305 787 311.8 789 C322 792 330 797 333.6 800.6 C320 808 305 817 296.5 822.3 C285 820 270 818 239 808.9 Z" fill="#fff" stroke="#6e6c6c" stroke-width="2.2" stroke-linejoin="round"/>
<path d="M299 811 Q306 801 322 800.6" fill="none" stroke="#6e6c6c" stroke-width="4" stroke-linecap="round"/>
<path d="M359 820 Q366 811 383.5 810.8" fill="none" stroke="#6e6c6c" stroke-width="4" stroke-linecap="round"/>
<line x1="142.4" y1="871" x2="279.3" y2="904" stroke="#e3141b" stroke-width="2.6" stroke-linecap="round"/>
<line x1="279.3" y1="904" x2="399.8" y2="846.2" stroke="#e3141b" stroke-width="2.6" stroke-linecap="round"/>
<line x1="142.4" y1="871" x2="158.8" y2="867.9" stroke="#e3141b" stroke-width="2.6" stroke-linecap="round"/>
<line x1="142.4" y1="871" x2="149.6" y2="883.3" stroke="#e3141b" stroke-width="2.6" stroke-linecap="round"/>
<line x1="399.8" y1="846.2" x2="387.5" y2="847.3" stroke="#e3141b" stroke-width="2.6" stroke-linecap="round"/>
<line x1="399.8" y1="846.2" x2="395.7" y2="858.6" stroke="#e3141b" stroke-width="2.6" stroke-linecap="round"/>
<text x="403.4" y="823.7" font-size="38" font-weight="bold" fill="#6a6a6a" textLength="167" lengthAdjust="spacingAndGlyphs">268 x 124</text>
</svg></body></html>
